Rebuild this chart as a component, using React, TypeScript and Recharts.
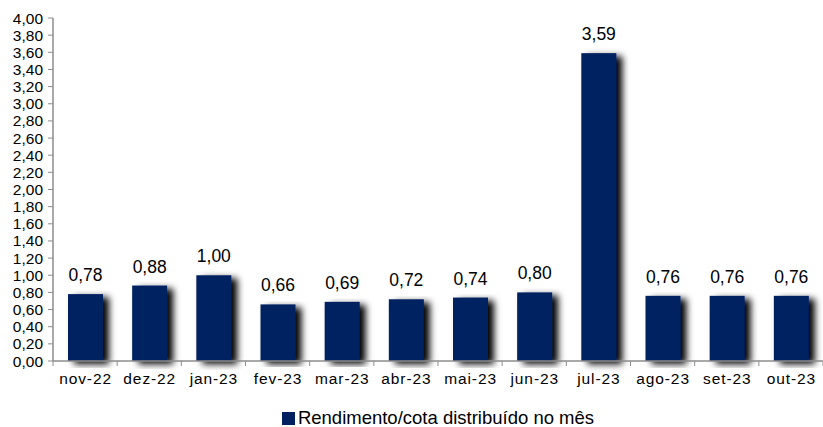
import { Bar, BarChart, LabelList, Legend, XAxis, YAxis } from "recharts";

const months = [
	"nov-22",
	"dez-22",
	"jan-23",
	"fev-23",
	"mar-23",
	"abr-23",
	"mai-23",
	"jun-23",
	"jul-23",
	"ago-23",
	"set-23",
	"out-23",
];
const rendimento = [0.78, 0.88, 1.0, 0.66, 0.69, 0.72, 0.74, 0.8, 3.59, 0.76, 0.76, 0.76];
const yTicks = [
	0, 0.2, 0.4, 0.6, 0.8, 1, 1.2, 1.4, 1.6, 1.8, 2, 2.2, 2.4, 2.6, 2.8, 3, 3.2, 3.4, 3.6, 3.8, 4,
];

const chartData = months.map((mes, i) => ({ mes, valor: rendimento[i] }));

const NAVY = "#002060";
const AXIS = "#8c8c8c";
const FONT = "'Liberation Sans', Arial, sans-serif";

const fmt = (v: number) => v.toFixed(2).replace(".", ",");

// barra com sombra à direita
function ShadowBar(props: any) {
	const { x, y, width, height } = props;
	if (!height || height <= 0) return null;
	return <rect x={x} y={y} width={width} height={height} fill={NAVY} filter="url(#barShadow)" />;
}

// tick do eixo X com marca nas divisões entre categorias
function MonthTick(props: any) {
	const { x, y, payload, index } = props;
	const band = (823 - 53) / months.length;
	return (
		<g>
			{index === 0 && (
				<line x1={x - band / 2} y1={y - 8} x2={x - band / 2} y2={y - 3} stroke={AXIS} />
			)}
			<line x1={x + band / 2} y1={y - 8} x2={x + band / 2} y2={y - 3} stroke={AXIS} />
			<text
				x={x + 0.5}
				y={y + 15}
				textAnchor="middle"
				fontSize={15.5}
				letterSpacing={0.9}
				fill="#000"
				fontFamily={FONT}
			>
				{payload.value}
			</text>
		</g>
	);
}

function LegendContent() {
	return (
		<div
			style={{
				display: "flex",
				justifyContent: "center",
				alignItems: "center",
				fontFamily: FONT,
				fontSize: 18.5,
				color: "#000",
				paddingLeft: 53,
				paddingTop: 6,
			}}
		>
			<span
				style={{ width: 13, height: 13, background: NAVY, display: "inline-block", marginRight: 3 }}
			/>
			<span>Rendimento/cota distribuído no mês</span>
		</div>
	);
}

export default function App() {
	return (
		<div style={{ position: "absolute", left: 0, top: 0, background: "#fff" }}>
			<BarChart
				width={823}
				height={427}
				data={chartData}
				margin={{ top: 18, right: 0, left: 0, bottom: 0 }}
				barSize={35}
			>
				<defs>
					<filter id="barShadow" x="-20%" y="-5%" width="180%" height="115%">
						<feDropShadow dx={6} dy={3} stdDeviation={3.5} floodColor="#000" floodOpacity={1} />
					</filter>
				</defs>
				<XAxis
					dataKey="mes"
					tick={<MonthTick />}
					tickLine={false}
					axisLine={{ stroke: AXIS, strokeWidth: 1.5 }}
					interval={0}
					height={40}
				/>
				<YAxis
					domain={[0, 4]}
					ticks={yTicks}
					interval={0}
					tickFormatter={fmt}
					width={53}
					tick={{ fontSize: 15.5, fill: "#000", fontFamily: FONT }}
					tickLine={{ stroke: AXIS }}
					tickSize={5}
					tickMargin={5}
					axisLine={{ stroke: AXIS, strokeWidth: 1.5 }}
				/>
				<Legend verticalAlign="bottom" height={26} content={<LegendContent />} />
				<Bar dataKey="valor" shape={<ShadowBar />} isAnimationActive={false}>
					<LabelList
						dataKey="valor"
						position="top"
						offset={13}
						formatter={(v: any) => fmt(Number(v))}
						style={{ fontSize: 17.5, fill: "#000", fontFamily: FONT }}
					/>
				</Bar>
			</BarChart>
		</div>
	);
}
